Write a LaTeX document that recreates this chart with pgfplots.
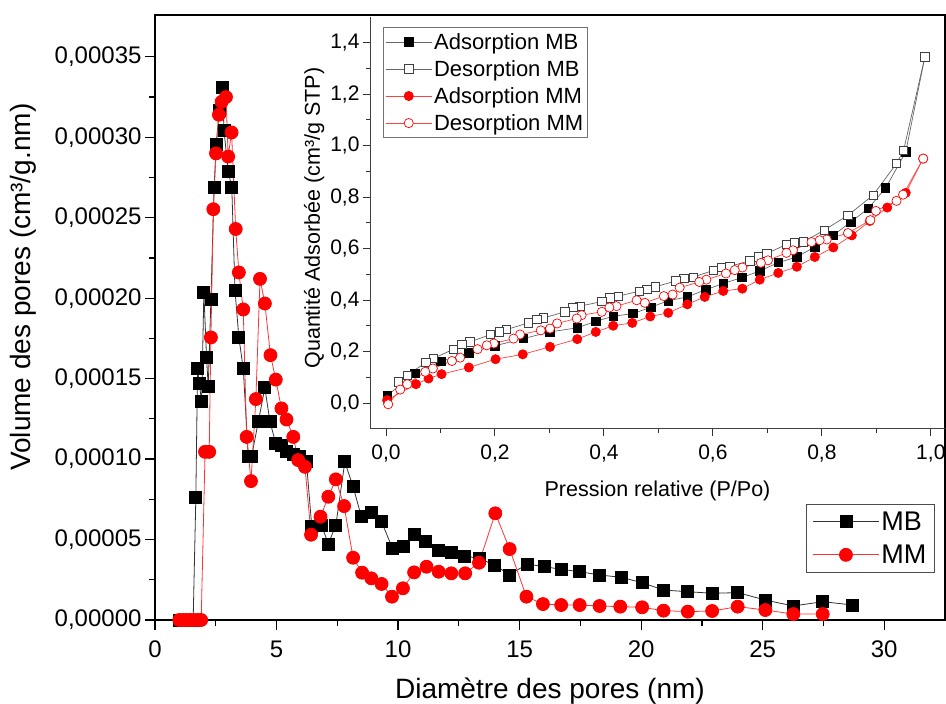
\documentclass[border=0pt]{standalone}
\usepackage{fontspec}
\setmainfont{Liberation Sans}
\usepackage{pgfplots}
\pgfplotsset{compat=1.18}
\begin{document}
\begin{tikzpicture}
\useasboundingbox (0,0) rectangle (946pt,704pt);
\begin{axis}[
  at={(155pt,84pt)}, anchor=south west, scale only axis,
  width=790pt, height=605pt,
  xmin=0, xmax=32.5, ymin=0, ymax=0.000376,
  xtick={0,5,10,15,20,25,30},
  ytick={0,0.00005,0.0001,0.00015,0.0002,0.00025,0.0003,0.00035},
  yticklabels={{0,00000},{0,00005},{0,00010},{0,00015},{0,00020},{0,00025},{0,00030},{0,00035}},
  scaled y ticks=false,
  minor x tick num=1, minor y tick num=1,
  tick align=outside, tick pos=left,
  major tick length=10pt, minor tick length=6pt,
  every tick/.style={black, line width=1.2pt},
  axis line style={line width=1.2pt},
  /pgf/number format/assume math mode=true,
  ticklabel style={font=\fontsize{24}{28}\selectfont},
  xticklabel style={yshift=-7pt},
  xlabel={Diamètre des pores (nm)},
  ylabel={Volume des pores (cm³/g.nm)},
  label style={font=\fontsize{28}{33}\selectfont},
  xlabel style={at={(axis description cs:0.5,-0.129)}, anchor=base},
  ylabel style={at={(axis description cs:-0.158,0.55)}, anchor=base},
  legend style={at={(0.987,0.192)}, anchor=north east, draw=black!70, line width=0.8pt,
    font=\fontsize{27}{31}\selectfont, inner xsep=6pt, inner ysep=1pt,
    nodes={inner ysep=6.5pt}},
  legend cell align=left,
  legend image code/.code={\draw[mark repeat=2,mark phase=2,#1] plot coordinates {(0pt,0pt) (33pt,0pt) (66pt,0pt)};},
]
\addplot[black!80, line width=0.8pt, mark=square*, mark size=6pt, mark options={solid, fill=black, draw=black}] coordinates {
(1.0,0) (1.2,0) (1.4,0) (1.57,0) (1.68,0.0000760) (1.75,0.0001563) (1.82,0.0001470) (1.92,0.0001356)
(2.01,0.0002033) (2.12,0.0001635) (2.19,0.0001449) (2.30,0.0001990) (2.43,0.0002687) (2.52,0.0002957)
(2.64,0.0003170) (2.77,0.0003310) (2.84,0.0003040) (3.01,0.0002790) (3.16,0.0002687) (3.29,0.0002050)
(3.45,0.0001756) (3.63,0.0001563) (3.84,0.0001014) (3.97,0.0001014) (4.25,0.0001232) (4.52,0.0001443)
(4.73,0.0001232) (4.97,0.0001097) (5.20,0.0001087) (5.41,0.0001045) (5.69,0.0001030) (5.96,0.0001014)
(6.23,0.0000983) (6.45,0.0000580) (6.85,0.0000590) (7.13,0.0000472) (7.44,0.0000590) (7.81,0.0000983)
(8.15,0.0000828) (8.49,0.0000642) (8.90,0.0000666) (9.32,0.0000611) (9.77,0.0000445) (10.20,0.0000460)
(10.66,0.0000534) (11.14,0.0000491) (11.67,0.0000430) (12.19,0.0000418) (12.74,0.0000398) (13.33,0.0000383)
(13.97,0.0000342) (14.59,0.0000280) (15.30,0.0000348) (16.03,0.0000331) (16.71,0.0000315) (17.47,0.0000300)
(18.29,0.0000280) (19.18,0.0000265) (20.04,0.0000232) (20.92,0.0000186) (21.92,0.0000176) (22.92,0.0000166)
(23.97,0.0000170) (25.11,0.0000124) (26.26,0.0000087) (27.47,0.0000114) (28.70,0.0000093)
};
\addlegendentry{MB}
\addplot[red!80, line width=0.8pt, mark=*, mark size=6.5pt, mark options={solid, fill=red, draw=red}] coordinates {
(1.0,0) (1.15,0) (1.3,0) (1.45,0) (1.6,0) (1.75,0) (1.9,0) (2.06,0.0001045) (2.23,0.0001045)
(2.30,0.0001756) (2.40,0.0002553) (2.51,0.0002900) (2.63,0.0003140) (2.74,0.0003220) (2.92,0.0003250)
(3.01,0.0002880) (3.15,0.0003030) (3.32,0.0002430) (3.45,0.0002160) (3.63,0.0001930) (3.77,0.0001138)
(3.95,0.0000863) (4.15,0.0001373) (4.32,0.0002120) (4.52,0.0001967) (4.75,0.0001646) (4.97,0.0001494)
(5.20,0.0001315) (5.41,0.0001246) (5.69,0.0001138) (5.89,0.0000994) (6.17,0.0000952) (6.42,0.0000530)
(6.81,0.0000642) (7.13,0.0000766) (7.44,0.0000874) (7.78,0.0000708) (8.15,0.0000387) (8.52,0.0000294)
(8.90,0.0000259) (9.32,0.0000224) (9.75,0.0000145) (10.20,0.0000197) (10.66,0.0000296) (11.17,0.0000331)
(11.67,0.0000300) (12.19,0.0000290) (12.76,0.0000290) (13.33,0.0000356) (14.00,0.0000663) (14.59,0.0000441)
(15.28,0.0000145) (15.96,0.0000099) (16.71,0.0000093) (17.47,0.0000093) (18.29,0.0000087) (19.14,0.0000083)
(20.04,0.0000079) (20.92,0.0000058) (21.92,0.0000052) (22.92,0.0000056) (23.97,0.0000083) (25.11,0.0000062)
(26.26,0.0000037) (27.47,0.0000037)
};
\addlegendentry{MM}
\end{axis}

\begin{axis}[
  at={(370pt,275pt)}, anchor=south west, scale only axis,
  width=575pt, height=412pt,
  xmin=-0.0294, xmax=1.026, ymin=-0.1, ymax=1.5,
  axis lines*=left,
  xtick={0,0.2,0.4,0.6,0.8,1.0},
  xticklabels={{0,0},{0,2},{0,4},{0,6},{0,8},{1,0}},
  ytick={0,0.2,0.4,0.6,0.8,1.0,1.2,1.4},
  yticklabels={{0,0},{0,2},{0,4},{0,6},{0,8},{1,0},{1,2},{1,4}},
  minor x tick num=1, minor y tick num=1,
  tick align=outside,
  major tick length=7pt, minor tick length=4pt,
  every tick/.style={black!80, line width=1pt},
  axis line style={black!75, line width=1pt},
  ticklabel style={font=\fontsize{21}{25}\selectfont},
  xticklabel style={yshift=-5pt},
  xlabel={Pression relative (P/Po)},
  ylabel={Quantité Adsorbée (cm³/g STP)},
  label style={font=\fontsize{21.5}{25}\selectfont},
  xlabel style={at={(axis description cs:0.5,-0.165)}, anchor=base},
  ylabel style={at={(axis description cs:-0.087,0.512)}, anchor=base},
  legend style={at={(0.0226,0.9757)}, anchor=north west, draw=black!55, line width=0.8pt,
    font=\fontsize{22}{26}\selectfont, inner xsep=2pt, inner ysep=1pt,
    nodes={inner ysep=4.8pt}},
  legend cell align=left,
  legend image code/.code={\draw[mark repeat=2,mark phase=2,#1] plot coordinates {(0pt,0pt) (23pt,0pt) (46pt,0pt)};},
]
\addplot[black!60, line width=0.7pt, mark=square*, mark size=4.2pt, mark options={solid, fill=black, draw=black}] coordinates {
(0.002,0.030) (0.053,0.115) (0.101,0.163) (0.152,0.195) (0.200,0.223) (0.252,0.251) (0.301,0.277)
(0.351,0.293) (0.385,0.318) (0.417,0.338) (0.453,0.348) (0.486,0.373) (0.518,0.398) (0.553,0.413)
(0.587,0.441) (0.619,0.465) (0.653,0.488) (0.686,0.514) (0.720,0.546) (0.754,0.568) (0.787,0.607)
(0.821,0.652) (0.853,0.704) (0.885,0.756) (0.917,0.836) (0.954,0.976) (0.989,1.345)
};
\addlegendentry{Adsorption MB}
\addplot[black!60, line width=0.7pt, mark=square*, mark size=4.2pt, mark options={solid, fill=white, draw=black!75}] coordinates {
(0.989,1.345) (0.950,0.982) (0.937,0.931) (0.894,0.808) (0.848,0.730) (0.804,0.672) (0.766,0.626)
(0.750,0.623) (0.735,0.617) (0.699,0.581) (0.683,0.568) (0.668,0.553) (0.631,0.532) (0.616,0.527)
(0.601,0.516) (0.564,0.490) (0.547,0.484) (0.532,0.475) (0.494,0.452) (0.479,0.443) (0.465,0.435)
(0.426,0.416) (0.411,0.410) (0.396,0.395) (0.356,0.377) (0.343,0.372) (0.328,0.355) (0.289,0.331)
(0.277,0.325) (0.261,0.312) (0.221,0.286) (0.208,0.277) (0.192,0.267) (0.154,0.238) (0.139,0.228)
(0.124,0.210) (0.087,0.174) (0.073,0.158) (0.039,0.109) (0.023,0.083)
};
\addlegendentry{Desorption MB}
\addplot[red!75, line width=0.7pt, mark=*, mark size=4.6pt, mark options={solid, fill=red, draw=red}] coordinates {
(0.002,0.012) (0.055,0.074) (0.078,0.096) (0.102,0.113) (0.152,0.139) (0.201,0.171) (0.251,0.190)
(0.301,0.219) (0.351,0.249) (0.385,0.277) (0.417,0.301) (0.452,0.312) (0.485,0.337) (0.518,0.351)
(0.553,0.384) (0.585,0.413) (0.619,0.436) (0.654,0.445) (0.686,0.480) (0.720,0.506) (0.754,0.530)
(0.787,0.568) (0.821,0.605) (0.855,0.652) (0.888,0.708) (0.920,0.760) (0.954,0.817) (0.986,0.950)
};
\addlegendentry{Adsorption MM}
\addplot[red!75, line width=0.7pt, mark=*, mark size=4.6pt, mark options={solid, fill=white, draw=red}] coordinates {
(0.986,0.950) (0.949,0.810) (0.937,0.786) (0.899,0.747) (0.889,0.711) (0.848,0.661) (0.809,0.636)
(0.796,0.633) (0.781,0.626) (0.747,0.594) (0.735,0.584) (0.701,0.555) (0.688,0.545) (0.654,0.527)
(0.640,0.517) (0.624,0.504) (0.588,0.480) (0.575,0.471) (0.539,0.449) (0.526,0.422) (0.510,0.416)
(0.475,0.390) (0.460,0.400) (0.423,0.377) (0.410,0.372) (0.396,0.355) (0.359,0.342) (0.350,0.329)
(0.314,0.310) (0.301,0.290) (0.284,0.283) (0.246,0.267) (0.234,0.251) (0.198,0.232) (0.185,0.225)
(0.168,0.210) (0.136,0.177) (0.121,0.164) (0.086,0.135) (0.072,0.122) (0.039,0.074) (0.026,0.053)
(0.004,-0.004)
};
\addlegendentry{Desorption MM}
\end{axis}
\end{tikzpicture}
\end{document}
